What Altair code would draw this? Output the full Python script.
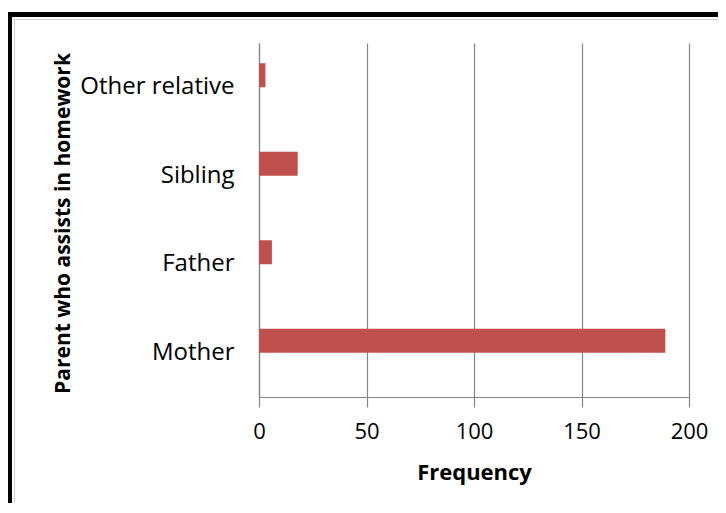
import altair as alt
import pandas as pd

categories = ["Other relative", "Sibling", "Father", "Mother"]
frequencies = [3, 18, 6, 189]
x_ticks = [0, 50, 100, 150, 200]

df = pd.DataFrame({"Parent": categories, "Frequency": frequencies})

FONT = "Open Sans"
GRID = "#868686"
BAR = "#C0504D"

W, H = 430, 354

bars = alt.Chart(df).mark_bar(color=BAR, height=24, yOffset=-12).encode(
    x=alt.X(
        "Frequency:Q",
        scale=alt.Scale(domain=[0, 200], nice=False),
        axis=alt.Axis(
            values=x_ticks,
            grid=True,
            gridColor=GRID,
            gridWidth=1.2,
            domainColor=GRID,
            domainWidth=1.2,
            tickColor=GRID,
            tickWidth=1.2,
            tickSize=10,
            labelFont=FONT,
            labelFontSize=22,
            labelColor="black",
            labelPadding=14,
            labelFlush=False,
            title="Frequency",
            titleFont=FONT,
            titleFontSize=22,
            titleFontWeight="bold",
            titleColor="black",
            titleY=75,
            titleBaseline="middle",
        ),
    ),
    y=alt.Y(
        "Parent:N",
        sort=categories,
        scale=alt.Scale(paddingInner=0, paddingOuter=0),
        axis=alt.Axis(
            ticks=False,
            grid=False,
            domainColor=GRID,
            domainWidth=1.2,
            labelFont=FONT,
            labelFontSize=24,
            labelColor="black",
            labelPadding=25,
            title="Parent who assists in homework",
            titleFont=FONT,
            titleFontSize=21,
            titleFontWeight="bold",
            titleColor="black",
            titleX=-196,
            titleY=180,
            titleAngle=-90,
            titleAlign="center",
            titleBaseline="middle",
        ),
    ),
)

one = pd.DataFrame({"k": [0]})

frame_top = alt.Chart(one).mark_rule(color="black", strokeWidth=5).encode(
    x=alt.value(-251), x2=alt.value(459), y=alt.value(-28.5)
)
frame_left = alt.Chart(one).mark_rule(color="black", strokeWidth=6).encode(
    x=alt.value(-250), y=alt.value(-31), y2=alt.value(462)
)
inner_top = alt.Chart(one).mark_rule(color="#cfcfcf", strokeWidth=1).encode(
    x=alt.value(-245), x2=alt.value(459), y=alt.value(-23.5)
)
inner_left = alt.Chart(one).mark_rule(color="#cfcfcf", strokeWidth=1).encode(
    x=alt.value(-244.5), y=alt.value(-24), y2=alt.value(462)
)

chart = alt.layer(frame_top, frame_left, inner_top, inner_left, bars).properties(
    width=W,
    height=H,
    autosize=alt.AutoSizeParams(type="none"),
    padding={"left": 251, "top": 35, "right": 29, "bottom": 106},
    background="white",
).configure_view(strokeWidth=0)

chart.save("out.html", embed_options={"renderer": "svg", "actions": False})
